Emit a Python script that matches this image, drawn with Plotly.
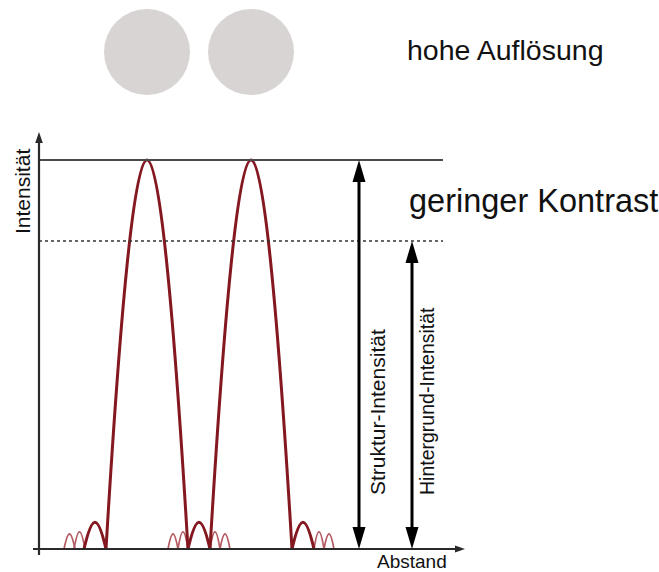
import plotly.graph_objects as go

# ---------------- data ----------------
# Abstand (x) in pixel-like distance units from the origin, Intensität normalised (peak = 1)
peak_centers = [108, 212]
peak_intensity = [1.0, 1.0]

dark_lobe_left = [45, 67, 149, 171, 253]
dark_lobe_right = [67, 149, 171, 253, 275]
dark_lobe_height = [0.069, 1.0, 0.069, 1.0, 0.069]

light_lobe_left = [25, 35, 129, 139, 171, 181, 275, 285]
light_lobe_right = [36, 46, 139, 149, 181, 191, 285, 295]
light_lobe_height = [0.039, 0.044, 0.039, 0.044, 0.044, 0.039, 0.044, 0.039]

structure_level = 1.0
background_level = 0.792

labels = {
    "top": "hohe Auflösung",
    "contrast": "geringer Kontrast",
    "y": "Intensität",
    "x": "Abstand",
    "structure": "Struktur-Intensität",
    "background": "Hintergrund-Intensität",
}

# ---------------- geometry helpers ----------------
X0_PX = 39.0      # pixel column of origin
Y0_PX = 549.0     # pixel row of baseline
Y_SCALE = 389.0   # pixels per intensity unit
W, H = 659, 572


def dy(px):
    return px / Y_SCALE


def row(py):
    return (Y0_PX - py) / Y_SCALE


def lobes(lefts, rights, heights):
    xs, ys = [], []
    for l, r, h in zip(lefts, rights, heights):
        xs += [l, (l + r) / 2, r, None]
        ys += [0, h, 0, None]
    return xs, ys


fig = go.Figure()

# circles (the two resolved points)
fig.add_trace(go.Scatter(
    x=peak_centers, y=[row(52)] * len(peak_centers), mode="markers",
    marker=dict(size=86, color="#d9d4d4", line=dict(width=0)),
    hoverinfo="skip", showlegend=False))

lx, ly = lobes(light_lobe_left, light_lobe_right, light_lobe_height)
fig.add_trace(go.Scatter(x=lx, y=ly, mode="lines",
                         line=dict(color="#b35a62", width=1.7, shape="spline", smoothing=1.3),
                         hoverinfo="skip", showlegend=False))
dx_, dy_ = lobes(dark_lobe_left, dark_lobe_right, dark_lobe_height)
fig.add_trace(go.Scatter(x=dx_, y=dy_, mode="lines",
                         line=dict(color="#841820", width=3, shape="spline", smoothing=1.3),
                         hoverinfo="skip", showlegend=False))

shapes = []
AX = "#2a2a2a"


def line(x0, y0, x1, y1, color, width, dash=None):
    d = dict(type="line", xref="x", yref="y", x0=x0, y0=y0, x1=x1, y1=y1,
             line=dict(color=color, width=width))
    if dash:
        d["line"]["dash"] = dash
    shapes.append(d)


def head_up(x, ytip, length, half, color):
    yb = ytip - dy(length)
    shapes.append(dict(type="path", xref="x", yref="y",
                       path=f"M {x - half},{yb} L {x},{ytip} L {x + half},{yb} Z",
                       fillcolor=color, line=dict(width=0)))


def head_down(x, ytip, length, half, color):
    yb = ytip + dy(length)
    shapes.append(dict(type="path", xref="x", yref="y",
                       path=f"M {x - half},{yb} L {x},{ytip} L {x + half},{yb} Z",
                       fillcolor=color, line=dict(width=0)))


def head_right(xtip, y, length, half, color):
    xb = xtip - length
    shapes.append(dict(type="path", xref="x", yref="y",
                       path=f"M {xb},{y - dy(half)} L {xtip},{y} L {xb},{y + dy(half)} Z",
                       fillcolor=color, line=dict(width=0)))


# reference levels
line(0, structure_level, 404, structure_level, "#4a4a4a", 2.2)
line(0, background_level, 404, background_level, "#333333", 1.5, "dot")

# axes
y_top = row(132)
line(0, row(555), 0, y_top - dy(8), AX, 2.2)
head_up(0, y_top, 11, 3.8, AX)
x_end = 426
line(-6, 0, x_end - 7, 0, AX, 2.2)
head_right(x_end, 0, 10, 3.5, AX)

# double arrows
HL, HW = 22, 6.5
for xa, top in [(320, structure_level), (373, background_level)]:
    line(xa, dy(HL - 2), xa, top - dy(HL - 2), "#000000", 3)
    head_up(xa, top, HL, HW, "#000000")
    head_down(xa, 0, HL, HW, "#000000")

FONT = "Liberation Sans, Arial, sans-serif"
TXT = "#111111"
ann = [
    dict(x=366, y=row(50), text=labels["top"], xanchor="left", yanchor="middle",
         font=dict(size=28.5, color=TXT, family=FONT)),
    dict(x=368, y=row(201), text=labels["contrast"], xanchor="left", yanchor="middle",
         font=dict(size=32.5, color=TXT, family=FONT)),
    dict(x=-17, y=row(192), text=labels["y"], textangle=-90, xanchor="center", yanchor="middle",
         font=dict(size=21, color=TXT, family=FONT)),
    dict(x=373, y=row(561), text=labels["x"], xanchor="center", yanchor="middle",
         font=dict(size=19, color=TXT, family=FONT)),
    dict(x=338, y=row(497), text=labels["structure"], textangle=-90, xanchor="center", yanchor="bottom",
         font=dict(size=21, color=TXT, family=FONT)),
    dict(x=388, y=row(497), text=labels["background"], textangle=-90, xanchor="center", yanchor="bottom",
         font=dict(size=19.5, color=TXT, family=FONT)),
]
for a in ann:
    a.update(xref="x", yref="y", showarrow=False)

fig.update_layout(
    width=W, height=H, autosize=False,
    margin=dict(l=0, r=0, t=0, b=0, pad=0),
    paper_bgcolor="white", plot_bgcolor="white",
    xaxis=dict(range=[-X0_PX, W - X0_PX], visible=False, fixedrange=True),
    yaxis=dict(range=[row(H), row(0)], visible=False, fixedrange=True),
    shapes=shapes, annotations=ann, showlegend=False,
)

fig.write_html("out.html", config={"displayModeBar": False},
               post_script="document.body.style.margin='0';")
